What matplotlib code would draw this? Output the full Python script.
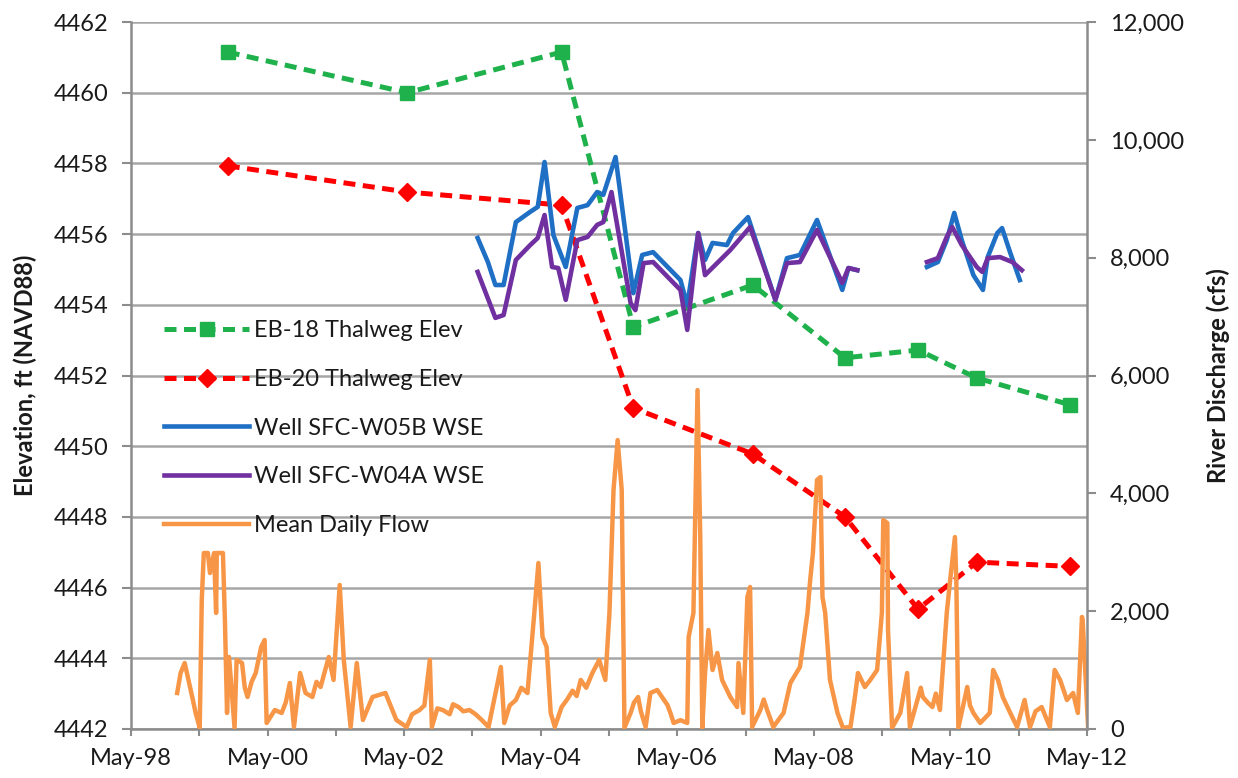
#Grafico: cotas do talvegue, poços e vazão média diária
import numpy as np
import matplotlib.pyplot as plt

#Datas em anos decimais
survey_dates = [1999.75, 2002.38, 2004.64, 2005.69, 2007.44, 2008.79, 2009.86, 2010.72, 2012.09]
eb18_elev = [4461.15, 4460.00, 4461.15, 4453.37, 4454.56, 4452.50, 4452.72, 4451.93, 4451.17]
eb20_elev = [4457.93, 4457.19, 4456.82, 4451.08, 4449.78, 4448.00, 4445.39, 4446.72, 4446.60]

w05b_dates = [2003.41, 2003.56, 2003.67, 2003.79, 2003.97, 2004.18, 2004.29, 2004.39, 2004.52, 2004.70,
              2004.87, 2005.02, 2005.16, 2005.25, 2005.43, 2005.69, 2005.82, 2005.98, 2006.38, 2006.48,
              2006.64, 2006.74, 2006.85, 2007.06, 2007.15, 2007.37, 2007.77, 2007.94, 2008.13, 2008.38,
              2008.75, 2008.84, 2008.97, np.nan,
              2009.99, 2010.15, 2010.28, 2010.39, 2010.50, 2010.67, 2010.81, 2010.88, 2011.02, 2011.09,
              2011.21, 2011.35]
w05b_elev = [4455.89, 4455.21, 4454.56, 4454.56, 4456.34, 4456.63, 4456.77, 4458.04, 4455.97, 4455.07,
             4456.74, 4456.82, 4457.19, 4457.11, 4458.18, 4454.33, 4455.41, 4455.49, 4454.70, 4453.99,
             4456.03, 4455.27, 4455.75, 4455.69, 4456.03, 4456.48, 4454.14, 4455.32, 4455.41, 4456.40,
             4454.42, 4455.04, 4454.98, np.nan,
             4455.07, 4455.21, 4455.83, 4456.60, 4455.83, 4454.84, 4454.42, 4455.35, 4456.03, 4456.17,
             4455.47, 4454.70]

w04a_dates = [2003.41, 2003.67, 2003.79, 2003.97, 2004.18, 2004.29, 2004.39, 2004.50, 2004.59, 2004.70,
              2004.87, 2005.02, 2005.16, 2005.25, 2005.37, 2005.65, 2005.72, 2005.84, 2005.98, 2006.38,
              2006.48, 2006.64, 2006.74, 2006.86, 2007.11, 2007.40, 2007.77, 2007.94, 2008.13, 2008.38,
              2008.75, 2008.84, 2008.97, np.nan,
              2009.99, 2010.15, 2010.28, 2010.36, 2010.50, 2010.72, 2010.80, 2010.88, 2011.06, 2011.24,
              2011.38]
w04a_elev = [4454.93, 4453.63, 4453.71, 4455.27, 4455.69, 4455.89, 4456.54, 4455.07, 4455.04, 4454.14,
             4455.83, 4455.92, 4456.26, 4456.34, 4457.19, 4454.05, 4453.85, 4455.18, 4455.21, 4454.42,
             4453.29, 4456.03, 4454.84, 4455.07, 4455.55, 4456.20, 4454.14, 4455.18, 4455.21, 4456.12,
             4454.62, 4455.04, 4454.98, np.nan,
             4455.21, 4455.32, 4455.92, 4456.20, 4455.69, 4455.07, 4454.93, 4455.32, 4455.35, 4455.21,
             4454.98]

#Vazão média diária (cfs)
flow_dates = [1999.01, 1999.06, 1999.12, 1999.24, 1999.28, 1999.34, 1999.37, 1999.40, 1999.46, 1999.49,
              1999.55, 1999.58, 1999.59, 1999.68, 1999.71, 1999.74, 1999.77, 1999.85, 1999.88, 1999.96,
              2000.00, 2000.04, 2000.10, 2000.16, 2000.24, 2000.29, 2000.32, 2000.44, 2000.54, 2000.60,
              2000.66, 2000.72, 2000.81, 2000.89, 2000.99, 2001.05, 2001.11, 2001.23, 2001.30, 2001.39,
              2001.45, 2001.55, 2001.64, 2001.73, 2001.87, 2002.06, 2002.22, 2002.37, 2002.45, 2002.56,
              2002.63, 2002.71, 2002.74, 2002.82, 2002.90, 2003.00, 2003.05, 2003.13, 2003.20, 2003.29,
              2003.38, 2003.47, 2003.57, 2003.75, 2003.80, 2003.88, 2003.97, 2004.05, 2004.14, 2004.24,
              2004.30, 2004.36, 2004.42, 2004.48, 2004.54, 2004.64, 2004.72, 2004.80, 2004.86, 2004.92,
              2005.00, 2005.09, 2005.19, 2005.28, 2005.34, 2005.40, 2005.46, 2005.52, 2005.56, 2005.65,
              2005.70, 2005.76, 2005.80, 2005.87, 2005.94, 2006.04, 2006.19, 2006.24, 2006.28, 2006.38,
              2006.48, 2006.50, 2006.57, 2006.63, 2006.67, 2006.70, 2006.74, 2006.79, 2006.85, 2006.92,
              2006.99, 2007.11, 2007.21, 2007.23, 2007.30, 2007.36, 2007.40, 2007.43, 2007.55, 2007.60,
              2007.65, 2007.74, 2007.89, 2007.99, 2008.13, 2008.24, 2008.28, 2008.32, 2008.38, 2008.43,
              2008.46, 2008.50, 2008.57, 2008.68, 2008.76, 2008.87, 2008.93, 2008.98, 2009.08, 2009.16,
              2009.26, 2009.33, 2009.35, 2009.41, 2009.42, 2009.48, 2009.60, 2009.70, 2009.74, 2009.85,
              2009.90, 2009.93, 2010.00, 2010.07, 2010.12, 2010.18, 2010.28, 2010.33, 2010.40, 2010.42,
              2010.45, 2010.58, 2010.62, 2010.67, 2010.77, 2010.91, 2010.96, 2011.03, 2011.10, 2011.21,
              2011.31, 2011.42, 2011.46, 2011.50, 2011.58, 2011.67, 2011.73, 2011.79, 2011.86, 2011.94,
              2012.04, 2012.13, 2012.20, 2012.26, 2012.27, 2012.33, 2012.35]
flow_cfs = [611, 950, 1120, 492, 272, 20, 2189, 2987, 2987, 2647,
            2987, 1969, 2987, 2987, 1799, 272, 1222, 20, 1171, 1120,
            700, 543, 800, 950, 1392, 1510, 102, 322, 272, 450,
            781, 34, 950, 611, 543, 800, 713, 1222, 832, 2444,
            1171, 34, 1120, 153, 543, 611, 153, 34, 250, 322,
            400, 1171, 34, 350, 322, 250, 420, 373, 300, 322,
            250, 153, 34, 1052, 102, 400, 492, 700, 611, 1969,
            2817, 1561, 1392, 272, 34, 373, 500, 650, 560, 832,
            700, 950, 1171, 832, 1969, 4056, 4904, 4056, 20, 272,
            450, 543, 300, 34, 611, 662, 407, 250, 102, 150,
            102, 1561, 1969, 5753, 3258, 20, 950, 1680, 1001, 1290,
            832, 543, 373, 1120, 272, 2240, 2410, 34, 322, 500,
            322, 34, 272, 781, 1052, 1969, 2529, 2987, 4226, 4276,
            2240, 1969, 832, 272, 20, 34, 500, 950, 713, 832,
            1001, 1969, 3547, 3496, 1680, 20, 272, 950, 34, 492,
            700, 543, 450, 373, 600, 322, 1969, 2529, 3258, 2529,
            20, 713, 400, 272, 102, 272, 1001, 832, 543, 272,
            34, 492, 250, 34, 300, 373, 200, 34, 1001, 832,
            492, 611, 272, 1901, 1850, 492, 34]

tick_years = list(range(1998, 2013))

plt.rcParams['font.family'] = ['Lato', 'DejaVu Sans']
cinza = '#8c8c8c'
texto = '#1a1a1a'

fig, ax = plt.subplots(figsize=(12.38, 7.78), dpi=100)
fig.subplots_adjust(left=0.1058, right=0.878, top=0.9717, bottom=0.063)
ax2 = ax.twinx()

l1, = ax.plot(survey_dates, eb18_elev, color='#1fb14b', lw=3.6, dashes=(2.4, 1.5),
              marker='s', ms=10.5, label='EB-18 Thalweg Elev')
l2, = ax.plot(survey_dates, eb20_elev, color='#ff0000', lw=3.6, dashes=(2.4, 1.5),
              marker='D', ms=9.5, label='EB-20 Thalweg Elev')
l3, = ax.plot(w05b_dates, w05b_elev, color='#1f6fc5', lw=3.3, label='Well SFC-W05B WSE')
l4, = ax.plot(w04a_dates, w04a_elev, color='#7030a0', lw=3.3, label='Well SFC-W04A WSE')
l5, = ax2.plot(flow_dates, flow_cfs, color='#f79646', lw=3.2, label='Mean Daily Flow')

#Eixos
x0 = 1998 + 1/3
ax.set_xlim(x0, x0 + 14)
ax.set_ylim(4442, 4462)
ax2.set_ylim(0, 12000)
ax.set_yticks(np.arange(4442, 4463, 2))
ax2.set_yticks(np.arange(0, 12001, 2000))
ax2.set_yticklabels(['{:,}'.format(v) for v in range(0, 12001, 2000)])

ax.set_xticks([y + 1/3 for y in tick_years if y % 2 == 0])
ax.set_xticklabels(['May-' + str(y)[2:] for y in tick_years if y % 2 == 0])
ax.set_xticks([y + 1/3 for y in tick_years if y % 2 == 1], minor=True)

ax.yaxis.grid(True, color='#a6a6a6', lw=1.8)
ax.set_axisbelow(True)

for s in ['top', 'right']:
    ax.spines[s].set_visible(False)
for s in ['top', 'left', 'bottom']:
    ax2.spines[s].set_visible(False)
for a, s in [(ax, 'left'), (ax, 'bottom'), (ax2, 'right')]:
    a.spines[s].set_color(cinza)
    a.spines[s].set_linewidth(1.8)

ax.tick_params(axis='y', direction='out', length=6.5, width=1.5, color=cinza,
               labelsize=17, labelcolor=texto, pad=10)
ax2.tick_params(axis='y', direction='out', length=6.5, width=1.5, color=cinza,
                labelsize=17, labelcolor=texto, pad=10)
ax.tick_params(axis='x', which='both', direction='out', length=5, width=1.5, color=cinza,
               labelsize=17, labelcolor=texto, pad=9)

ax.set_ylabel('Elevation, ft (NAVD88)', fontsize=17, fontweight='bold', color=texto, labelpad=12)
ax2.set_ylabel('River Discharge (cfs)', fontsize=17, fontweight='bold', color=texto, labelpad=16)

ax2.legend(handles=[l1, l2, l3, l4, l5], loc='upper left', bbox_to_anchor=(0.035, 0.578),
           frameon=False, fontsize=17, handlelength=3.6, handletextpad=0.2,
           labelspacing=1.17, borderpad=0, borderaxespad=0, labelcolor=texto)

plt.savefig('out.png', dpi=100)
